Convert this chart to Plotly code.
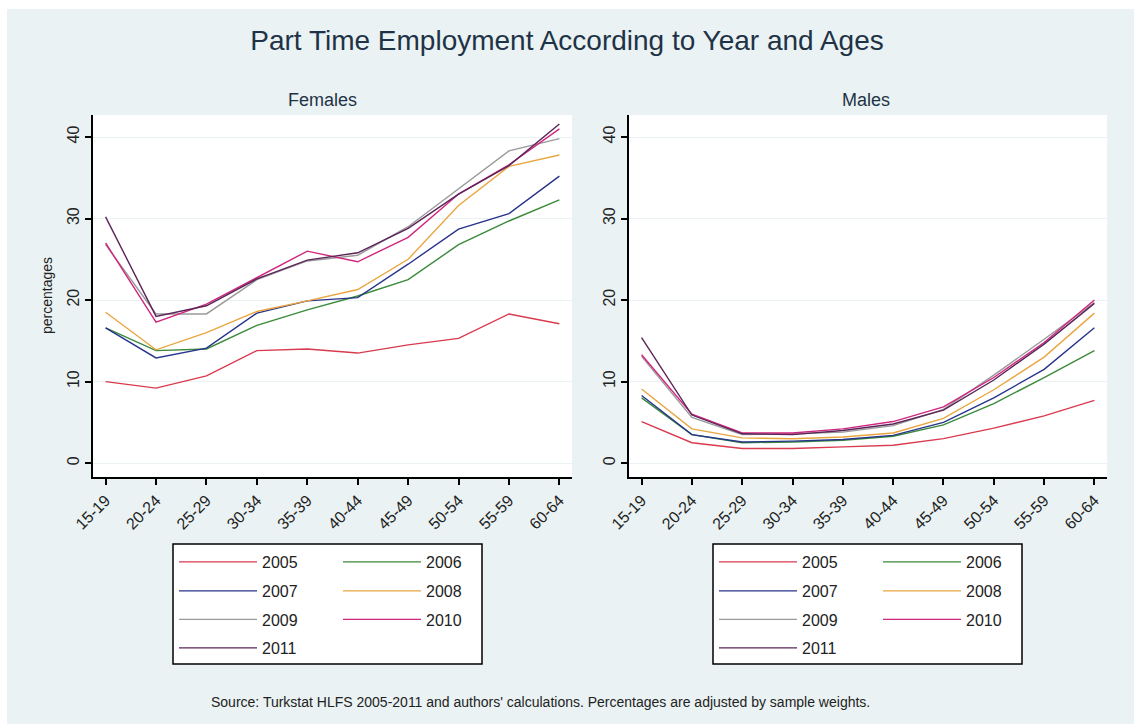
import plotly.graph_objects as go

# Age groups on the x axis
age_groups = ["15-19", "20-24", "25-29", "30-34", "35-39",
              "40-44", "45-49", "50-54", "55-59", "60-64"]
years = ["2005", "2006", "2007", "2008", "2009", "2010", "2011"]

# Part-time employment shares (%) - females
fem_2005 = [10.0, 9.2, 10.7, 13.8, 14.0, 13.5, 14.5, 15.3, 18.3, 17.1]
fem_2006 = [16.6, 13.8, 14.0, 16.9, 18.8, 20.5, 22.5, 26.8, 29.7, 32.3]
fem_2007 = [16.6, 12.9, 14.1, 18.4, 19.9, 20.3, 24.4, 28.7, 30.6, 35.2]
fem_2008 = [18.5, 13.9, 16.0, 18.6, 19.9, 21.3, 25.0, 31.6, 36.4, 37.8]
fem_2009 = [26.8, 18.3, 18.3, 22.5, 24.8, 25.5, 29.0, 33.7, 38.3, 39.8]
fem_2010 = [27.0, 17.3, 19.5, 22.8, 26.0, 24.7, 27.7, 33.0, 36.6, 41.0]
fem_2011 = [30.2, 18.0, 19.3, 22.6, 24.9, 25.8, 28.8, 33.0, 36.5, 41.6]

# Part-time employment shares (%) - males
male_2005 = [5.1, 2.5, 1.8, 1.8, 2.0, 2.2, 3.0, 4.3, 5.8, 7.7]
male_2006 = [8.0, 3.5, 2.5, 2.6, 2.8, 3.3, 4.7, 7.3, 10.5, 13.8]
male_2007 = [8.3, 3.5, 2.6, 2.7, 2.9, 3.4, 5.0, 8.0, 11.5, 16.6]
male_2008 = [9.1, 4.2, 3.1, 3.0, 3.2, 3.7, 5.5, 9.0, 13.0, 18.4]
male_2009 = [13.1, 5.6, 3.5, 3.6, 3.8, 4.6, 6.6, 10.8, 15.2, 19.7]
male_2010 = [13.3, 6.0, 3.7, 3.7, 4.2, 5.1, 6.9, 10.5, 14.8, 20.0]
male_2011 = [15.4, 5.9, 3.6, 3.5, 4.0, 4.8, 6.5, 10.2, 14.6, 19.6]

female_series = [fem_2005, fem_2006, fem_2007, fem_2008, fem_2009, fem_2010, fem_2011]
male_series = [male_2005, male_2006, male_2007, male_2008, male_2009, male_2010, male_2011]

line_colors = ["#D93A4E", "#3A8A3A", "#27348B", "#E9A640",
               "#9A9A9A", "#D0267E", "#5A2458"]

W, H = 1134, 724
BG = "#EAF2F3"
TEXT = "#1F3347"
FONT = "Liberation Sans, Arial, sans-serif"


def fx(p):
    return p / W


def fy(p):
    return 1 - p / H


fig = go.Figure()

# one single-entry legend per series and panel, laid out as two columns
panels = [("x", "y", female_series, 173), ("x2", "y2", male_series, 713)]
row_y = [562, 591, 619.5, 648]
legend_layouts = {}
k = 0
for p, (xa, ya, series, box_left) in enumerate(panels):
    for i, yr in enumerate(years):
        k += 1
        lname = "legend" if k == 1 else f"legend{k}"
        col, row = i % 2, i // 2
        fig.add_trace(go.Scatter(
            x=age_groups, y=series[i], mode="lines", name=yr,
            line=dict(color=line_colors[i], width=1.4),
            xaxis=xa, yaxis=ya, legend=lname, showlegend=True,
            hoverinfo="skip",
        ))
        legend_layouts[lname] = dict(
            x=fx(box_left + 1 + col * 164), y=fy(row_y[row]),
            xanchor="left", yanchor="middle",
            bgcolor="rgba(0,0,0,0)", borderwidth=0,
            itemwidth=78, font=dict(family=FONT, size=16, color="#222222"),
        )

axis_common = dict(
    showline=True, linecolor="#000000", linewidth=1.5,
    ticks="outside", ticklen=6, tickwidth=1.5, tickcolor="#000000",
    zeroline=False, automargin=False,
    tickfont=dict(family=FONT, size=16, color="#222222"),
)
x_common = dict(axis_common, type="category", range=[-0.25, 9.25],
                tickangle=-45, showgrid=False)
y_common = dict(axis_common, range=[-1.7, 42.7], tickvals=[0, 10, 20, 30, 40],
                tickangle=-90, showgrid=True, gridcolor=BG, gridwidth=1.2)

y_dom = [fy(477), fy(115)]

fig.update_layout(
    width=W, height=H,
    margin=dict(l=0, r=0, t=0, b=0),
    paper_bgcolor=BG, plot_bgcolor="#FFFFFF",
    showlegend=True,
    xaxis=dict(x_common, domain=[fx(93), fx(572)], anchor="y"),
    yaxis=dict(y_common, domain=y_dom, anchor="x"),
    xaxis2=dict(x_common, domain=[fx(629), fx(1107)], anchor="y2"),
    yaxis2=dict(y_common, domain=y_dom, anchor="x2"),
    title=dict(text="Part Time Employment According to Year and Ages",
               x=fx(567), xanchor="center", y=fy(40), yanchor="middle",
               font=dict(family=FONT, size=28, color=TEXT)),
    **legend_layouts,
)

annotations = [
    dict(text="Females", x=fx(322), y=fy(100), size=18),
    dict(text="Males", x=fx(866), y=fy(100), size=18),
]
for a in annotations:
    fig.add_annotation(text=a["text"], x=a["x"], y=a["y"], xref="paper", yref="paper",
                       xanchor="center", yanchor="middle", showarrow=False,
                       font=dict(family=FONT, size=a["size"], color=TEXT))

fig.add_annotation(text="percentages", x=fx(47), y=fy(296), xref="paper", yref="paper",
                   xanchor="center", yanchor="middle", showarrow=False, textangle=-90,
                   font=dict(family=FONT, size=14, color="#222222"))

fig.add_annotation(
    text="Source: Turkstat HLFS 2005-2011 and authors' calculations. "
         "Percentages are adjusted by sample weights.",
    x=fx(540), y=fy(702), xref="paper", yref="paper",
    xanchor="center", yanchor="middle", showarrow=False,
    font=dict(family=FONT, size=14, color="#222222"))

# legend frames
for box_left in (173, 713):
    fig.add_shape(type="rect", xref="paper", yref="paper",
                  x0=fx(box_left), x1=fx(box_left + 309), y0=fy(664), y1=fy(544),
                  line=dict(color="#000000", width=1.5), fillcolor="#FFFFFF",
                  layer="below")

# thin white border along the top and left edges
fig.add_shape(type="rect", xref="paper", yref="paper", x0=0, x1=1, y0=fy(9), y1=1,
              line=dict(width=0), fillcolor="#FFFFFF", layer="below")
fig.add_shape(type="rect", xref="paper", yref="paper", x0=0, x1=fx(7), y0=0, y1=1,
              line=dict(width=0), fillcolor="#FFFFFF", layer="below")

fig.write_html("out.html")
